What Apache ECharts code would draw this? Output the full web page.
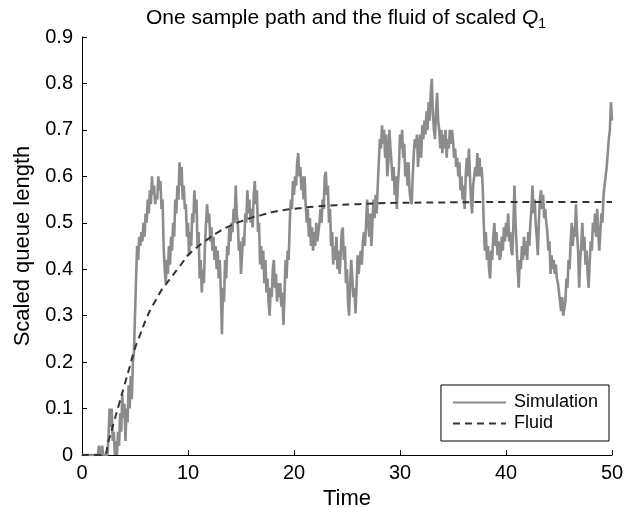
<!DOCTYPE html>
<html>
<head>
<meta charset="utf-8">
<script src="https://cdn.jsdelivr.net/npm/echarts@6/dist/echarts.min.js"></script>
<style>
  html, body { margin: 0; padding: 0; background: #fff; }
  #chart { width: 629px; height: 508px; }
</style>
</head>
<body>
<div id="chart"></div>
<script>
// one simulated sample path, [time, scaled queue length]
var simPath = [
  [0, 0], [1.5, 0], [1.6, 0.02], [1.8, 0], [1.9, 0.02], [2.0, 0], [2.4, 0],
  [2.5, 0.04], [2.6, 0.1], [2.7, 0.06], [2.8, 0.1], [2.9, 0.03], [3.0, 0.05],
  [3.1, 0], [3.2, 0.03], [3.3, 0], [3.4, 0.05], [3.5, 0.02], [3.6, 0.09],
  [3.7, 0.05], [3.8, 0.13], [3.9, 0.08], [4.0, 0.11], [4.1, 0.03], [4.2, 0.1],
  [4.3, 0.07], [4.4, 0.15], [4.5, 0.1], [4.6, 0.17], [4.7, 0.12], [4.8, 0.2],
  [4.9, 0.22], [5.0, 0.3], [5.1, 0.38], [5.2, 0.45], [5.3, 0.42], [5.4, 0.47],
  [5.5, 0.45], [5.6, 0.48], [5.7, 0.46], [5.8, 0.5], [5.9, 0.47], [6.0, 0.52],
  [6.1, 0.5], [6.2, 0.55], [6.3, 0.52], [6.4, 0.57], [6.5, 0.54], [6.6, 0.6],
  [6.7, 0.56], [6.8, 0.58], [6.9, 0.54], [7.0, 0.56], [7.1, 0.55], [7.2, 0.6],
  [7.3, 0.57], [7.4, 0.59], [7.5, 0.53], [7.6, 0.55], [7.7, 0.45], [7.8, 0.4],
  [7.9, 0.37], [8.0, 0.42], [8.1, 0.39], [8.2, 0.45], [8.3, 0.41], [8.4, 0.47],
  [8.5, 0.44], [8.6, 0.5], [8.7, 0.47], [8.8, 0.55], [8.9, 0.52], [9.0, 0.58],
  [9.1, 0.55], [9.2, 0.63], [9.3, 0.58], [9.4, 0.62], [9.5, 0.55], [9.6, 0.58],
  [9.7, 0.53], [9.8, 0.54], [9.9, 0.47], [10.0, 0.5], [10.1, 0.43], [10.2, 0.48],
  [10.3, 0.45], [10.4, 0.52], [10.5, 0.5], [10.6, 0.57], [10.7, 0.52], [10.8, 0.55],
  [10.9, 0.45], [11.0, 0.48], [11.1, 0.38], [11.2, 0.42], [11.3, 0.35], [11.4, 0.4],
  [11.5, 0.37], [11.6, 0.45], [11.7, 0.5], [11.8, 0.54], [11.9, 0.5], [12.0, 0.52],
  [12.1, 0.46], [12.2, 0.49], [12.3, 0.44], [12.4, 0.47], [12.5, 0.42], [12.6, 0.45],
  [12.7, 0.4], [12.8, 0.44], [12.9, 0.38], [13.0, 0.42], [13.1, 0.35], [13.2, 0.26],
  [13.3, 0.36], [13.4, 0.33], [13.5, 0.42], [13.6, 0.38], [13.7, 0.45], [13.8, 0.43],
  [13.9, 0.49], [14.0, 0.46], [14.1, 0.5], [14.2, 0.48], [14.3, 0.53], [14.4, 0.5],
  [14.5, 0.58], [14.6, 0.52], [14.7, 0.5], [14.8, 0.44], [14.9, 0.46], [15.0, 0.39],
  [15.1, 0.43], [15.2, 0.47], [15.3, 0.45], [15.4, 0.52], [15.5, 0.5], [15.6, 0.57],
  [15.7, 0.52], [15.8, 0.55], [15.9, 0.5], [16.0, 0.53], [16.1, 0.49], [16.2, 0.56],
  [16.3, 0.59], [16.4, 0.54], [16.5, 0.57], [16.6, 0.48], [16.7, 0.5], [16.8, 0.41],
  [16.9, 0.45], [17.0, 0.4], [17.1, 0.44], [17.2, 0.37], [17.3, 0.42], [17.4, 0.35],
  [17.5, 0.38], [17.6, 0.33], [17.7, 0.3], [17.8, 0.36], [17.9, 0.34], [18.0, 0.4],
  [18.1, 0.42], [18.2, 0.36], [18.3, 0.39], [18.4, 0.33], [18.5, 0.37], [18.6, 0.34],
  [18.7, 0.37], [18.8, 0.32], [18.9, 0.35], [19.0, 0.28], [19.1, 0.34], [19.2, 0.42],
  [19.3, 0.38], [19.4, 0.44], [19.5, 0.42], [19.6, 0.5], [19.7, 0.55], [19.8, 0.53],
  [19.9, 0.59], [20.0, 0.56], [20.1, 0.6], [20.2, 0.58], [20.3, 0.63], [20.4, 0.65],
  [20.5, 0.6], [20.6, 0.62], [20.7, 0.57], [20.8, 0.6], [20.9, 0.55], [21.0, 0.6],
  [21.1, 0.54], [21.2, 0.5], [21.3, 0.53], [21.4, 0.47], [21.5, 0.51], [21.6, 0.45],
  [21.7, 0.49], [21.8, 0.44], [21.9, 0.48], [22.0, 0.45], [22.1, 0.5], [22.2, 0.46],
  [22.3, 0.48], [22.4, 0.5], [22.5, 0.53], [22.6, 0.5], [22.7, 0.55], [22.8, 0.53],
  [22.9, 0.6], [23.0, 0.61], [23.1, 0.56], [23.2, 0.58], [23.3, 0.5], [23.4, 0.53],
  [23.5, 0.45], [23.6, 0.48], [23.7, 0.41], [23.8, 0.45], [23.9, 0.42], [24.0, 0.47],
  [24.1, 0.4], [24.2, 0.44], [24.3, 0.39], [24.4, 0.43], [24.5, 0.48], [24.6, 0.49],
  [24.7, 0.42], [24.8, 0.45], [24.9, 0.37], [25.0, 0.4], [25.1, 0.33], [25.2, 0.3],
  [25.3, 0.37], [25.4, 0.42], [25.5, 0.38], [25.6, 0.34], [25.7, 0.36], [25.8, 0.305],
  [25.9, 0.36], [26.0, 0.43], [26.1, 0.39], [26.2, 0.42], [26.3, 0.44], [26.4, 0.41],
  [26.5, 0.46], [26.6, 0.48], [26.7, 0.45], [26.8, 0.5], [26.9, 0.55], [27.0, 0.5],
  [27.1, 0.47], [27.2, 0.52], [27.3, 0.45], [27.4, 0.5], [27.5, 0.55], [27.6, 0.51],
  [27.7, 0.56], [27.8, 0.52], [27.9, 0.58], [28.0, 0.63], [28.1, 0.68], [28.2, 0.66],
  [28.3, 0.71], [28.4, 0.67], [28.5, 0.7], [28.6, 0.64], [28.7, 0.69], [28.8, 0.6],
  [28.9, 0.63], [29.0, 0.7], [29.1, 0.66], [29.2, 0.63], [29.3, 0.59], [29.4, 0.62],
  [29.5, 0.56], [29.6, 0.6], [29.7, 0.53], [29.8, 0.58], [29.9, 0.62], [30.0, 0.69],
  [30.1, 0.66], [30.2, 0.7], [30.3, 0.64], [30.4, 0.67], [30.5, 0.6], [30.6, 0.63],
  [30.7, 0.58], [30.8, 0.63], [30.9, 0.57], [31.0, 0.55], [31.1, 0.54], [31.2, 0.6],
  [31.3, 0.65], [31.4, 0.68], [31.5, 0.66], [31.6, 0.69], [31.7, 0.62], [31.8, 0.66],
  [31.9, 0.69], [32.0, 0.64], [32.1, 0.71], [32.2, 0.68], [32.3, 0.72], [32.4, 0.69],
  [32.5, 0.74], [32.6, 0.7], [32.7, 0.76], [32.8, 0.72], [32.9, 0.78], [33.0, 0.81],
  [33.1, 0.74], [33.2, 0.7], [33.3, 0.68], [33.4, 0.74], [33.5, 0.78], [33.6, 0.72],
  [33.7, 0.7], [33.8, 0.66], [33.9, 0.7], [34.0, 0.65], [34.1, 0.69], [34.2, 0.66],
  [34.3, 0.7], [34.4, 0.64], [34.5, 0.68], [34.6, 0.66], [34.7, 0.7], [34.8, 0.67],
  [34.9, 0.7], [35.0, 0.68], [35.1, 0.64], [35.2, 0.66], [35.3, 0.62], [35.4, 0.64],
  [35.5, 0.6], [35.6, 0.63], [35.7, 0.57], [35.8, 0.6], [35.9, 0.55], [36.0, 0.58],
  [36.1, 0.53], [36.2, 0.6], [36.3, 0.64], [36.4, 0.6], [36.5, 0.66], [36.6, 0.6],
  [36.7, 0.55], [36.8, 0.52], [36.9, 0.58], [37.0, 0.6], [37.1, 0.62], [37.2, 0.6],
  [37.3, 0.65], [37.4, 0.6], [37.5, 0.64], [37.6, 0.6], [37.7, 0.62], [37.8, 0.58],
  [37.9, 0.5], [38.0, 0.44], [38.1, 0.48], [38.2, 0.42], [38.3, 0.45], [38.4, 0.4],
  [38.5, 0.38], [38.6, 0.44], [38.7, 0.42], [38.8, 0.47], [38.9, 0.5], [39.0, 0.45],
  [39.1, 0.48], [39.2, 0.43], [39.3, 0.46], [39.4, 0.42], [39.5, 0.43], [39.6, 0.47],
  [39.7, 0.44], [39.8, 0.49], [39.9, 0.46], [40.0, 0.5], [40.1, 0.47], [40.2, 0.52],
  [40.3, 0.46], [40.4, 0.48], [40.5, 0.44], [40.6, 0.43], [40.7, 0.5], [40.8, 0.58],
  [40.9, 0.5], [41.0, 0.45], [41.1, 0.4], [41.2, 0.36], [41.3, 0.42], [41.4, 0.4],
  [41.5, 0.45], [41.6, 0.42], [41.7, 0.47], [41.8, 0.43], [41.9, 0.46], [42.0, 0.42],
  [42.1, 0.48], [42.2, 0.45], [42.3, 0.5], [42.4, 0.53], [42.5, 0.58], [42.6, 0.52],
  [42.7, 0.55], [42.8, 0.5], [42.9, 0.47], [43.0, 0.43], [43.1, 0.5], [43.2, 0.55],
  [43.3, 0.57], [43.4, 0.53], [43.5, 0.56], [43.6, 0.51], [43.7, 0.53], [43.8, 0.5],
  [43.9, 0.48], [44.0, 0.44], [44.1, 0.46], [44.2, 0.39], [44.3, 0.43], [44.4, 0.4],
  [44.5, 0.42], [44.6, 0.39], [44.7, 0.41], [44.8, 0.38], [44.9, 0.37], [45.0, 0.35],
  [45.1, 0.33], [45.2, 0.31], [45.3, 0.34], [45.4, 0.3], [45.5, 0.3], [45.6, 0.33],
  [45.7, 0.38], [45.8, 0.36], [45.9, 0.42], [46.0, 0.4], [46.1, 0.46], [46.2, 0.5],
  [46.3, 0.45], [46.4, 0.49], [46.5, 0.47], [46.6, 0.54], [46.7, 0.48], [46.8, 0.44],
  [46.9, 0.36], [47.0, 0.42], [47.1, 0.45], [47.2, 0.5], [47.3, 0.44], [47.4, 0.47],
  [47.5, 0.41], [47.6, 0.44], [47.7, 0.39], [47.8, 0.36], [47.9, 0.42], [48.0, 0.46],
  [48.1, 0.44], [48.2, 0.5], [48.3, 0.48], [48.4, 0.52], [48.5, 0.47], [48.6, 0.53],
  [48.7, 0.48], [48.8, 0.44], [48.9, 0.48], [49.0, 0.52], [49.1, 0.5], [49.2, 0.56],
  [49.3, 0.58], [49.4, 0.6], [49.5, 0.62], [49.6, 0.65], [49.7, 0.68], [49.8, 0.7],
  [49.9, 0.76], [50.0, 0.72]
];

// fluid limit
var fluidPath = [
  [0, 0], [1, 0], [2, 0], [2.5, 0.03], [3, 0.07], [3.5, 0.11], [4, 0.15],
  [4.5, 0.19], [5, 0.23], [5.5, 0.26], [6, 0.29], [6.5, 0.315], [7, 0.335],
  [7.5, 0.355], [8, 0.37], [8.5, 0.385], [9, 0.4], [9.5, 0.415], [10, 0.43],
  [11, 0.45], [12, 0.467], [13, 0.482], [14, 0.494], [15, 0.503], [16, 0.511],
  [17, 0.517], [18, 0.523], [19, 0.527], [20, 0.53], [22, 0.535], [24, 0.538],
  [26, 0.54], [28, 0.542], [30, 0.543], [35, 0.544], [40, 0.545], [45, 0.545],
  [50, 0.545]
];

var seriesNames = ['Simulation', 'Fluid'];
var xTicks = [0, 10, 20, 30, 40, 50];
var yTicks = [0, 0.1, 0.2, 0.3, 0.4, 0.5, 0.6, 0.7, 0.8, 0.9];

var font = '"Liberation Sans", Arial, Helvetica, sans-serif';
var chart = echarts.init(document.getElementById('chart'), null, {renderer: 'canvas'});

chart.setOption({
  animation: false,
  backgroundColor: '#fff',
  textStyle: {fontFamily: font, color: '#000'},
  title: {
    text: 'One sample path and the fluid of scaled {q|Q}{s|1}',
    left: 346,
    top: 5,
    padding: 0,
    textAlign: 'center',
    textStyle: {
      fontFamily: font, fontSize: 21, fontWeight: 'normal', color: '#000', lineHeight: 26,
      rich: {
        q: {fontFamily: font, fontSize: 21, fontStyle: 'italic', color: '#000', lineHeight: 26},
        s: {fontFamily: font, fontSize: 14, color: '#000', lineHeight: 14, verticalAlign: 'bottom'}
      }
    }
  },
  legend: {
    data: seriesNames,
    orient: 'vertical',
    right: 20,
    top: 385,
    padding: [7, 11, 7, 11],
    itemGap: 0,
    itemWidth: 53,
    itemHeight: 14,
    borderColor: '#000',
    borderWidth: 1,
    borderRadius: 0,
    backgroundColor: '#fff',
    itemStyle: {opacity: 0},
    textStyle: {fontFamily: font, fontSize: 18, color: '#000', lineHeight: 21, padding: [0, 0, 0, 3]}
  },
  grid: {left: 82, right: 17, top: 37, bottom: 53, containLabel: false, outerBoundsMode: 'none'},
  xAxis: {
    type: 'value',
    min: xTicks[0],
    max: xTicks[xTicks.length - 1],
    interval: 10,
    name: 'Time',
    nameLocation: 'middle',
    nameGap: 23,
    nameTextStyle: {fontFamily: font, fontSize: 22, color: '#000'},
    axisLine: {onZero: false, lineStyle: {color: '#000', width: 1}},
    axisTick: {inside: true, length: 5, lineStyle: {color: '#000'}},
    axisLabel: {fontFamily: font, fontSize: 20, color: '#000', margin: 8},
    splitLine: {show: false}
  },
  yAxis: {
    type: 'value',
    min: yTicks[0],
    max: yTicks[yTicks.length - 1],
    interval: 0.1,
    name: 'Scaled queue length',
    nameLocation: 'middle',
    nameGap: 46,
    nameTextStyle: {fontFamily: font, fontSize: 22, color: '#000'},
    axisLine: {onZero: false, lineStyle: {color: '#000', width: 1}},
    axisTick: {inside: true, length: 5, lineStyle: {color: '#000'}},
    axisLabel: {
      fontFamily: font, fontSize: 20, color: '#000', margin: 9,
      formatter: function (v) { return v === 0 ? '0' : v.toFixed(1); }
    },
    splitLine: {show: false}
  },
  series: [
    {
      name: seriesNames[0],
      type: 'line',
      data: simPath,
      symbol: 'none',
      lineStyle: {color: '#8c8c8c', width: 2.6},
      itemStyle: {color: '#8c8c8c'},
      z: 2
    },
    {
      name: seriesNames[1],
      type: 'line',
      data: fluidPath,
      smooth: true,
      symbol: 'none',
      lineStyle: {color: '#333', width: 2, type: [7, 5]},
      itemStyle: {color: '#333'},
      z: 3
    }
  ]
});
</script>
</body>
</html>
